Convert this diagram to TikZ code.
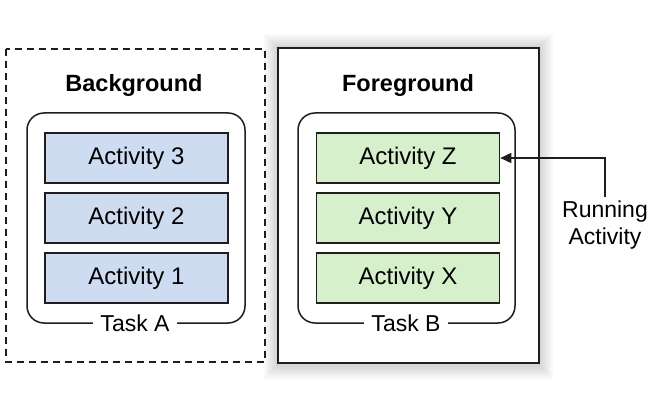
\documentclass[tikz,border=0pt]{standalone}
\usepackage{fontspec}
\setmainfont{Liberation Sans}
\usetikzlibrary{arrows.meta}
\definecolor{actblue}{RGB}{206,220,241}
\definecolor{actgreen}{RGB}{214,240,204}
\definecolor{edge}{RGB}{30,30,30}

\begin{document}
\begin{tikzpicture}[x=1pt, y=-1pt,
  activity/.style={draw=edge, line width=1.6pt, minimum width=183pt, minimum height=50pt, inner sep=0pt, font=\fontsize{24}{27}\selectfont},
  taskbox/.style={draw=edge, line width=1.5pt, rounded corners=17pt},
  tasklabel/.style={fill=white, inner xsep=7pt, inner ysep=1pt, font=\fontsize{23}{26}\selectfont},
  stacktitle/.style={font=\fontsize{23.5}{26}\selectfont\bfseries}]
\useasboundingbox (0, 0) rectangle (662, 404);
\fill[white](0, 0) rectangle (662, 404);
\foreach \s in {2, 4, ..., 14}
  \fill[black, opacity=0.025](278-\s, 48-\s) rectangle (539+\s, 365+\s);
\fill[white](278, 48) rectangle (539, 363);
\draw[edge, line width=1.5pt](278, 48) rectangle (539, 363);
\draw[edge, line width=1.5pt, dash pattern=on 7pt off 5pt](6, 49) rectangle (265, 362);
\node[stacktitle] (bgtitle) at (134, 85) {Background};
\node[stacktitle] (fgtitle) at (408, 85) {Foreground};
\draw[taskbox](27, 113) rectangle (245, 323);
\draw[taskbox](298, 113) rectangle (515, 323);
\node[activity, fill=actblue] (act3) at (136.5, 158) {Activity 3};
\node[activity, fill=actblue] (act2) at (136.5, 218) {Activity 2};
\node[activity, fill=actblue] (act1) at (136.5, 278) {Activity 1};
\node[activity, fill=actgreen] (actZ) at (408, 158) {Activity Z};
\node[activity, fill=actgreen] (actY) at (408, 218) {Activity Y};
\node[activity, fill=actgreen] (actX) at (408, 278) {Activity X};
\node[tasklabel] (taskA) at (135, 323) {Task A};
\node[tasklabel] (taskB) at (406, 323) {Task B};
\node[align=center, font=\fontsize{23}{27}\selectfont] (running) at (605, 225) {Running\\Activity};
\draw[edge, line width=1.5pt, -{Triangle[length=11pt, width=10pt]}](running.north) |- (actZ.east);
\end{tikzpicture}
\end{document}
